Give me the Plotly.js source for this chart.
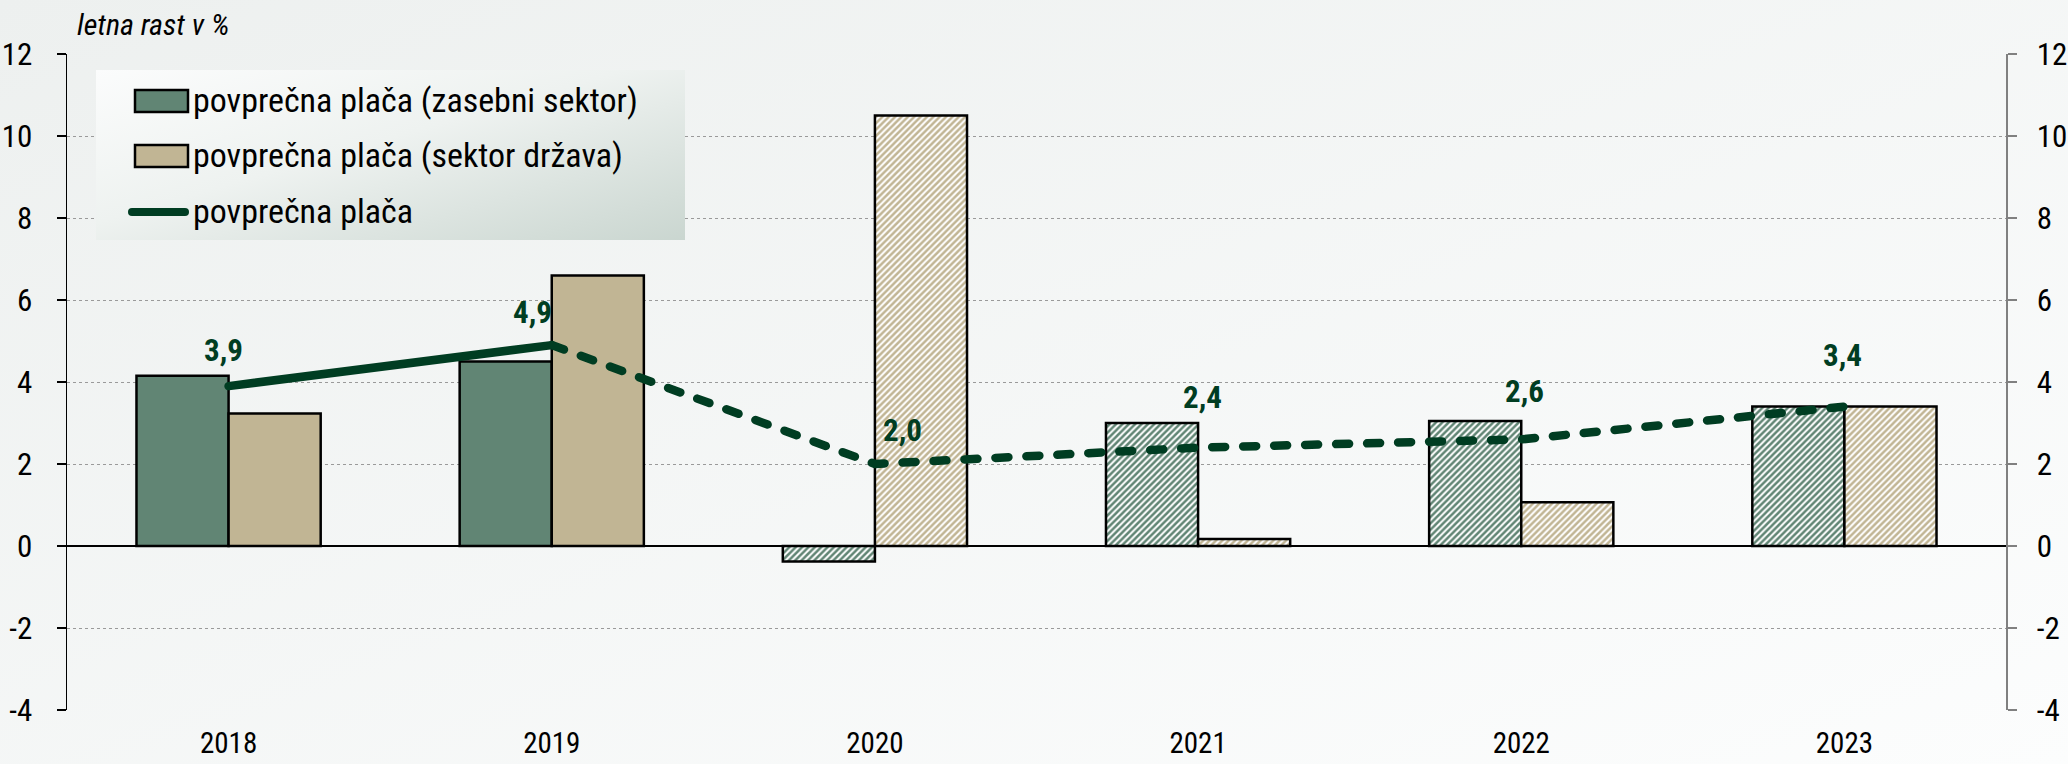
<!DOCTYPE html>
<html>
<head>
<meta charset="utf-8">
<script src="https://cdn.plot.ly/plotly-3.0.1.min.js"></script>
<style>
html,body{margin:0;padding:0;background:#f4f6f5;}
#chart{width:2068px;height:764px;}
</style>
</head>
<body>
<div id="chart"></div>
<script>
// ---- data ----
const years = ['2018', '2019', '2020', '2021', '2022', '2023'];
const privateSector = [4.15, 4.5, -0.38, 3.0, 3.05, 3.4];
const publicSector = [3.23, 6.6, 10.5, 0.17, 1.07, 3.4];
const averageWage = [3.9, 4.9, 2.0, 2.4, 2.6, 3.4];
const hatched = [false, false, true, true, true, true];
const seriesNames = ['povprečna plača (zasebni sektor)', 'povprečna plača (sektor država)', 'povprečna plača'];
const yTickValues = [-4, -2, 0, 2, 4, 6, 8, 10, 12];
const yAxisTitle = 'letna rast v %';

// ---- styles ----
const narrow = '"Liberation Sans Narrow", "Arial Narrow", "Roboto Condensed", "DejaVu Sans Condensed", sans-serif';
const cPrivate = '#618574';
const cPublic = '#c1b594';
const cLine = '#003d22';
const labelShiftX = [-5, -19, 28, 4, 3, -2];
const labelShiftY = [36, 33, 34, 50, 48, 51];
const legendRowCenters = [100, 155, 211]; // page px

const patShape = hatched.map(h => h ? '/' : '');
const firstHatch = hatched.indexOf(true);
const solidY = averageWage.map((v, i) => i < firstHatch ? v : null);
const dashY = averageWage.map((v, i) => i >= firstHatch - 1 ? v : null);

const traces = [
  {
    type: 'bar', x: years, y: privateSector, name: seriesNames[0], legendgroup: 'a',
    marker: {
      color: cPrivate,
      line: {color: '#000000', width: 2.5},
      pattern: {shape: patShape, fgcolor: cPrivate, bgcolor: '#ffffff', size: 4.5, solidity: 0.55, fillmode: 'replace'}
    }
  },
  {
    type: 'bar', x: years, y: publicSector, name: seriesNames[1], legendgroup: 'b',
    marker: {
      color: cPublic,
      line: {color: '#000000', width: 2.5},
      pattern: {shape: patShape, fgcolor: cPublic, bgcolor: '#ffffff', size: 4.5, solidity: 0.55, fillmode: 'replace'}
    }
  },
  {
    type: 'scatter', mode: 'lines', x: years, y: solidY, name: seriesNames[2], legendgroup: 'c',
    line: {color: cLine, width: 8.5}, yaxis: 'y2', connectgaps: false
  },
  {
    type: 'scatter', mode: 'lines', x: years, y: dashY, name: seriesNames[2], legendgroup: 'c',
    line: {color: cLine, width: 8.5, dash: '13px,18px'}, yaxis: 'y2', showlegend: false, connectgaps: false
  }
];

const annotations = averageWage.map((v, i) => ({
  x: i, y: v, xref: 'x', yref: 'y',
  text: v.toFixed(1).replace('.', ','),
  showarrow: false, xshift: labelShiftX[i], yshift: labelShiftY[i],
  font: {family: narrow, size: 31, color: cLine, weight: 'bold'}
}));
annotations.push({
  xref: 'paper', yref: 'paper', x: 0.004, y: 1, xanchor: 'left', yanchor: 'bottom', yshift: 10,
  text: '<i>' + yAxisTitle + '</i>', showarrow: false,
  font: {family: narrow, size: 30, color: '#000000'}
});

const bgSvg = '<svg xmlns="http://www.w3.org/2000/svg" width="100" height="100" preserveAspectRatio="none"><defs><linearGradient id="g" x1="0" y1="0" x2="1" y2="1"><stop offset="0" stop-color="#edf0ef"/><stop offset="1" stop-color="#fcfdfd"/></linearGradient></defs><rect width="100" height="100" fill="url(#g)"/></svg>';
const legSvg = '<svg xmlns="http://www.w3.org/2000/svg" width="100" height="100" preserveAspectRatio="none"><defs><linearGradient id="g" x1="0" y1="0" x2="1" y2="1"><stop offset="0" stop-color="#fbfcfc"/><stop offset="0.45" stop-color="#eef2f0"/><stop offset="1" stop-color="#cad6d0"/></linearGradient></defs><rect width="100" height="100" fill="url(#g)"/></svg>';
const toUri = s => 'data:image/svg+xml;base64,' + btoa(s);

const axisFont = {family: narrow, size: 31, color: '#000000'};
const xTickFont = {family: narrow, size: 29, color: '#000000'};

const layout = {
  width: 2068, height: 764,
  margin: {l: 67, r: 62, t: 54, b: 54, pad: 0},
  paper_bgcolor: '#f4f6f5',
  plot_bgcolor: 'rgba(0,0,0,0)',
  barmode: 'group', bargap: 0.43, bargroupgap: 0,
  showlegend: true,
  legend: {
    x: (97 - 67) / 1939, y: 0.976, xanchor: 'left', yanchor: 'top',
    bgcolor: 'rgba(0,0,0,0)', borderwidth: 0,
    font: {family: narrow, size: 34, color: '#000000'},
    itemwidth: 86, tracegroupgap: 12, traceorder: 'grouped'
  },
  xaxis: {
    type: 'category', categoryorder: 'array', categoryarray: years,
    range: [-0.5, years.length - 0.5],
    showline: false, ticks: '', showgrid: false, zeroline: false,
    tickfont: xTickFont, ticklabelstandoff: 13, automargin: false, fixedrange: true
  },
  yaxis: {
    range: [-4, 12], tickvals: yTickValues, ticktext: yTickValues.map(String),
    showline: true, linecolor: '#000000', linewidth: 1.5,
    ticks: 'outside', ticklen: 9, tickwidth: 1.5, tickcolor: '#000000',
    showgrid: true, gridcolor: '#9a9a9a', gridwidth: 1, griddash: 'dot',
    zeroline: true, zerolinecolor: '#000000', zerolinewidth: 1.5,
    tickfont: axisFont, ticklabelstandoff: 18, automargin: false, fixedrange: true
  },
  yaxis2: {
    overlaying: 'y', side: 'right', range: [-4, 12], tickvals: yTickValues, ticktext: yTickValues.map(String),
    showline: true, linecolor: '#808080', linewidth: 1.5,
    ticks: 'outside', ticklen: 9, tickwidth: 1.5, tickcolor: '#808080',
    showgrid: false, zeroline: false,
    tickfont: axisFont, ticklabelstandoff: 14, automargin: false, fixedrange: true
  },
  annotations: annotations,
  images: [
    {source: toUri(bgSvg), xref: 'paper', yref: 'paper', x: -67/1939, y: 1 + 54/656, sizex: 2068/1939, sizey: 764/656,
     xanchor: 'left', yanchor: 'top', sizing: 'stretch', layer: 'below'},
    {source: toUri(legSvg), xref: 'paper', yref: 'paper', x: (96-67)/1939, y: (710-70)/656, sizex: (685-96)/1939, sizey: (240-70)/656,
     xanchor: 'left', yanchor: 'top', sizing: 'stretch', layer: 'above'}
  ]
};

// legend swatches styled like the reference (wide rectangles, thick rounded line)
function toLocal(el, x, y) {
  const svg = el.ownerSVGElement;
  const m = el.parentNode.getScreenCTM().inverse();
  const p = svg.createSVGPoint();
  p.x = x; p.y = y;
  return p.matrixTransform(m);
}
function styleLegend(gd) {
  const items = Array.from(gd.querySelectorAll('g.legend g.traces'));
  items.forEach((item, i) => {
    const text = item.querySelector('text.legendtext');
    if (!text) return;
    let tr = text.getBoundingClientRect();
    const target = legendRowCenters[i];
    if (target !== undefined) {
      const dy = target - (tr.top + tr.height / 2);
      const t = item.getAttribute('transform') || '';
      item.setAttribute('transform', t + ' translate(0,' + dy + ')');
      tr = text.getBoundingClientRect();
    }
    const cy = tr.top + tr.height / 2 + 1;
    const right = tr.left - 5;
    const linePath = Array.from(item.querySelectorAll('g.legendlines path')).find(p => (p.getAttribute('d') || '').length > 3);
    const barPath = item.querySelector('path.legendbar') ||
      Array.from(item.querySelectorAll('g.legendpoints path')).find(p => (p.getAttribute('d') || '').length > 3);
    if (linePath) {
      linePath.removeAttribute('transform');
      const a = toLocal(linePath, right - 56, cy);
      const b = toLocal(linePath, right - 3, cy);
      linePath.setAttribute('d', 'M' + a.x + ',' + a.y + 'L' + b.x + ',' + b.y);
      linePath.style.strokeWidth = '8px';
      linePath.style.strokeLinecap = 'round';
    } else if (barPath) {
      barPath.removeAttribute('transform');
      const a = toLocal(barPath, right - 53, cy - 11);
      const b = toLocal(barPath, right, cy + 11);
      barPath.setAttribute('d', 'M' + a.x + ',' + a.y + 'H' + b.x + 'V' + b.y + 'H' + a.x + 'Z');
      barPath.style.strokeWidth = '2.5px';
      barPath.style.stroke = '#000000';
    }
  });
  gd.querySelectorAll('.scatterlayer path.js-line').forEach(p => { p.style.strokeLinecap = 'round'; p.style.strokeLinejoin = 'round'; });
}

const gd = document.getElementById('chart');
Plotly.newPlot(gd, traces, layout, {displayModeBar: false, staticPlot: true}).then(() => {
  try { styleLegend(gd); } catch (e) { console.log(e); }
});
</script>
</body>
</html>
